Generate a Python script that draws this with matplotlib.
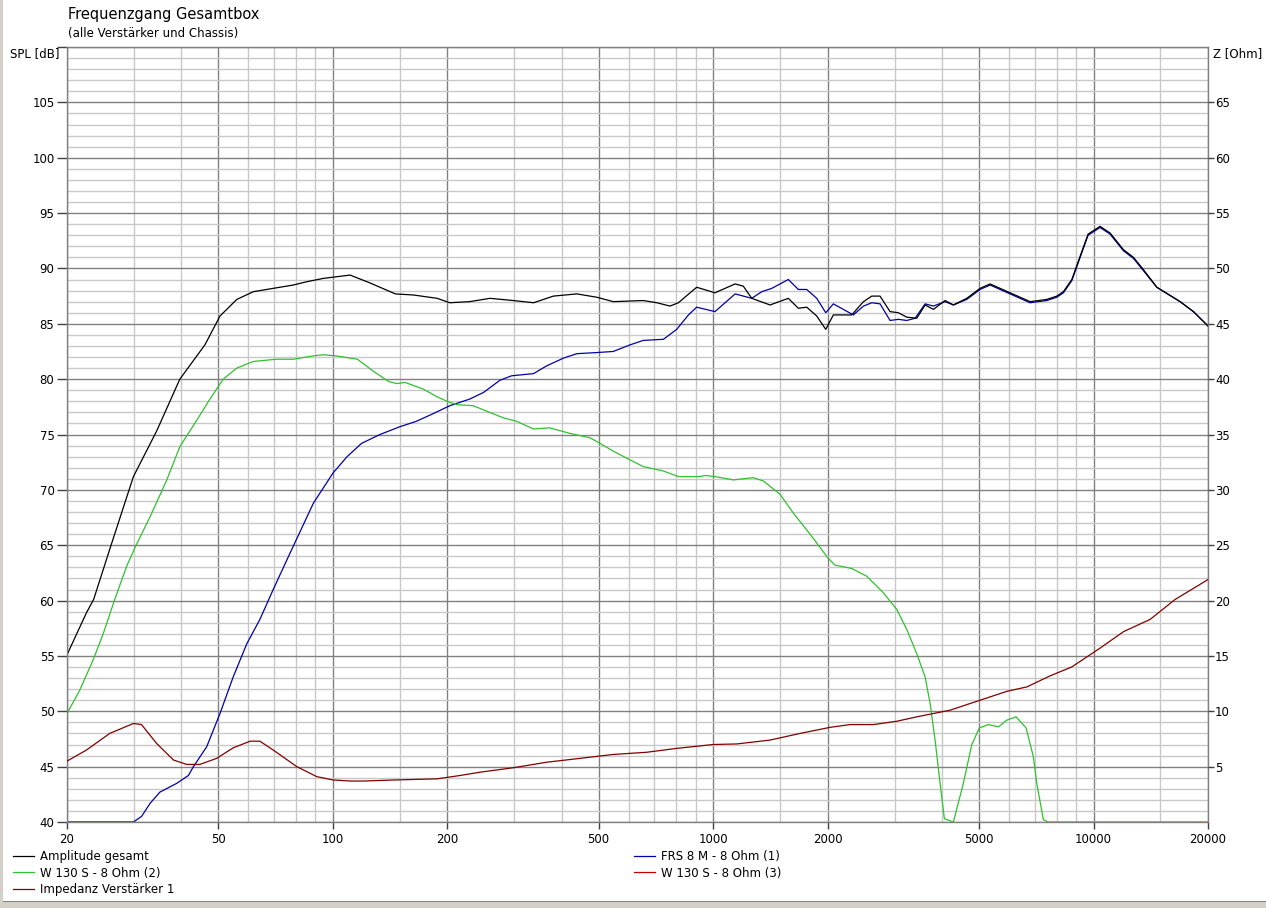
"""Frequenzgang Gesamtbox -- Nachbau des Simulationsplots."""
import matplotlib
matplotlib.use("Agg")
import matplotlib.pyplot as plt
from matplotlib.patches import Rectangle
from matplotlib.ticker import NullFormatter

# ---------------------------------------------------------------------------
# Daten
# ---------------------------------------------------------------------------

amp_f = [20, 22.5, 23.5, 26, 29.9, 34.4, 39.6, 46.1, 50.5, 55.9, 61.8, 69.7,
         78.7, 85.4, 94.4, 111, 125, 146, 163, 188, 203, 229, 259, 298, 337,
         380, 438, 494, 546, 655, 711, 770, 810, 905, 1011, 1142, 1200, 1263,
         1411, 1576, 1675, 1762, 1872, 1977, 2070, 2314, 2484, 2612, 2746,
         2918, 3068, 3228, 3430, 3608, 3794, 4071, 4281, 4642, 5032, 5346,
         5680, 6034, 6812, 7536, 8008, 8334, 8770, 9222, 9678, 10406, 11054,
         11982, 12736, 13526, 14670, 16892, 18310, 20000]
amp_db = [55.1, 58.9, 60.1, 64.8, 71.2, 75.3, 80.0, 83.1, 85.7, 87.2, 87.9,
          88.2, 88.5, 88.8, 89.1, 89.4, 88.7, 87.7, 87.6, 87.3, 86.9, 87.0,
          87.3, 87.1, 86.9, 87.5, 87.7, 87.4, 87.0, 87.1, 86.9, 86.6, 86.9,
          88.3, 87.8, 88.6, 88.4, 87.3, 86.7, 87.3, 86.4, 86.5, 85.7, 84.5,
          85.8, 85.8, 87.0, 87.5, 87.5, 86.1, 86.0, 85.6, 85.5, 86.7, 86.3,
          87.1, 86.7, 87.3, 88.2, 88.6, 88.2, 87.8, 87.0, 87.2, 87.5, 87.9,
          89.0, 91.1, 93.1, 93.8, 93.2, 91.7, 91.0, 89.9, 88.3, 87.0, 86.1,
          84.8]

frs_f = [20, 29.9, 31.4, 33.1, 35.1, 38.9, 41.7, 43.0, 46.6, 50.5, 54.7, 59.4,
         64.3, 69.7, 77.2, 88.9, 100, 109, 119, 133, 150, 166, 184, 203, 229,
         249, 275, 295, 337, 365, 404, 438, 494, 546, 605, 655, 740, 802, 861,
         905, 1011, 1108, 1142, 1263, 1342, 1426, 1576, 1675, 1762, 1872,
         1977, 2070, 2337, 2484, 2612, 2746, 2918, 3068, 3228, 3396, 3608,
         3794, 4071, 4281, 4642, 5032, 5346, 5680, 6034, 6812, 7536, 8008,
         8334, 8770, 9222, 9678, 10406, 11054, 11982, 12736, 13526, 14670,
         16892, 18310, 20000]
frs_db = [40.0, 40.0, 40.5, 41.7, 42.7, 43.5, 44.2, 45.0, 46.8, 49.8, 53.1,
          56.1, 58.3, 61.0, 64.3, 68.8, 71.5, 73.0, 74.2, 75.0, 75.7, 76.2,
          76.9, 77.6, 78.2, 78.8, 79.9, 80.3, 80.5, 81.2, 81.9, 82.3, 82.4,
          82.5, 83.1, 83.5, 83.6, 84.5, 85.8, 86.5, 86.1, 87.3, 87.7, 87.3,
          87.9, 88.2, 89.0, 88.1, 88.1, 87.3, 86.0, 86.8, 85.8, 86.6, 86.9,
          86.8, 85.3, 85.4, 85.3, 85.5, 86.8, 86.6, 87.0, 86.7, 87.2, 88.1,
          88.5, 88.1, 87.7, 86.9, 87.1, 87.4, 87.8, 88.9, 91.0, 93.0, 93.7,
          93.1, 91.6, 90.9, 89.8, 88.3, 87.0, 86.1, 84.8]

w130_f = [20, 21.6, 23.4, 24.9, 26.7, 28.7, 30.2, 33.1, 36.6, 39.6, 43.9, 47.5,
          51.5, 55.9, 61.8, 71.2, 78.7, 88.9, 94.4, 102, 116, 128, 140, 147,
          155, 173, 188, 203, 212, 234, 254, 281, 304, 337, 372, 420, 475,
          504, 546, 605, 655, 740, 810, 924, 952, 1011, 1130, 1275, 1355,
          1499, 1625, 1798, 2008, 2092, 2314, 2534, 2802, 3039, 3228, 3430,
          3608, 3719, 3832, 3950, 4054, 4281, 4548, 4786, 5012, 5292, 5624,
          5914, 6258, 6648, 6948, 7092, 7382, 7600, 20000]
w130_db = [49.8, 51.9, 54.6, 57.0, 60.1, 63.1, 64.8, 67.6, 70.9, 73.9, 76.3,
           78.2, 80.0, 81.0, 81.6, 81.8, 81.8, 82.1, 82.2, 82.1, 81.8, 80.7,
           79.8, 79.6, 79.7, 79.1, 78.4, 77.9, 77.7, 77.6, 77.1, 76.5, 76.2,
           75.5, 75.6, 75.1, 74.7, 74.2, 73.5, 72.7, 72.1, 71.7, 71.2, 71.2,
           71.3, 71.2, 70.9, 71.1, 70.8, 69.6, 67.9, 66.0, 63.8, 63.2, 62.9,
           62.2, 60.7, 59.2, 57.4, 55.2, 53.1, 50.7, 47.4, 43.5, 40.3, 40.0,
           43.5, 47.0, 48.5, 48.8, 48.6, 49.2, 49.5, 48.5, 45.9, 43.5, 40.2,
           40.0, 40.0]

imp_f = [20, 22.5, 25.9, 29.9, 31.4, 34.4, 38.1, 41.3, 44.7, 49.5, 54.7, 60.6,
         64.3, 69.7, 80.4, 90.7, 100, 111, 120, 147, 188, 216, 244, 298, 365,
         447, 546, 669, 802, 1001, 1154, 1411, 1692, 2029, 2290, 2638, 3039,
         3430, 3794, 4196, 5032, 5914, 6676, 7688, 8760, 10400, 12000, 14090,
         16390, 20000]
imp_ohm = [5.5, 6.5, 8.0, 8.9, 8.8, 7.1, 5.6, 5.2, 5.2, 5.75, 6.7, 7.3, 7.3,
           6.5, 5.0, 4.1, 3.8, 3.7, 3.7, 3.8, 3.9, 4.2, 4.5, 4.9, 5.4, 5.75,
           6.1, 6.3, 6.65, 7.0, 7.05, 7.4, 8.0, 8.55, 8.8, 8.8, 9.1, 9.5, 9.8,
           10.1, 11.0, 11.8, 12.2, 13.2, 14.0, 15.7, 17.2, 18.3, 20.1, 21.9]

x_major = [20, 50, 100, 200, 500, 1000, 2000, 5000, 10000, 20000]
x_minor = [30, 40, 60, 70, 80, 90, 150, 300, 400, 600, 700, 800, 900, 1500,
           3000, 4000, 6000, 7000, 8000, 9000, 15000]
spl_ticks = list(range(40, 106, 5))
z_ticks = list(range(5, 66, 5))

# ---------------------------------------------------------------------------
# Figur
# ---------------------------------------------------------------------------

W, H = 1266, 908
plt.rcParams["font.family"] = "DejaVu Sans"
fig = plt.figure(figsize=(W / 100, H / 100), dpi=100)
fig.patch.set_facecolor("white")

# Fensterrahmen (grau)
fig.patches.append(Rectangle((0, 0), 1, 6 / H, transform=fig.transFigure,
                             facecolor="#d4d0c8", edgecolor="none", zorder=0))
fig.patches.append(Rectangle((0, 6 / H), 1, 1.5 / H, transform=fig.transFigure,
                             facecolor="#808080", edgecolor="none", zorder=0))
fig.patches.append(Rectangle((0, 0), 3 / W, 1, transform=fig.transFigure,
                             facecolor="#d4d0c8", edgecolor="none", zorder=0))

left, right, top, bottom = 67, 1208, 47, 822
ax = fig.add_axes([left / W, 1 - bottom / H, (right - left) / W, (bottom - top) / H])
ax.set_xscale("log")
ax.set_xlim(20, 20000)
ax.set_ylim(40, 110)

grid_dark = "#808080"
grid_light = "#c8c8c8"

ax.set_xticks(x_major, labels=[str(v) for v in x_major])
ax.set_xticks(x_minor, minor=True)
ax.xaxis.set_minor_formatter(NullFormatter())
ax.set_yticks(spl_ticks + [110], labels=[str(v) for v in spl_ticks] + [""])
ax.set_yticks([v for v in range(41, 110) if v % 5], minor=True)
ax.grid(which="major", color=grid_dark, lw=1.0)
ax.grid(which="minor", color=grid_light, lw=1.0)
ax.set_axisbelow(True)
ax.tick_params(which="major", axis="y", length=7, width=1, color="#404040",
               pad=2, labelsize=8.5)
ax.tick_params(which="major", axis="x", length=5, width=1, color="#404040",
               pad=3, labelsize=8.5)
ax.tick_params(which="minor", length=0)
for sp in ax.spines.values():
    sp.set_color(grid_dark)
    sp.set_linewidth(1.0)

# Kurven: Chassis zuerst, Summe obenauf
lw = 0.9
l_frs, = ax.plot(frs_f, frs_db, color="#0000a8", lw=lw, label="FRS 8 M - 8 Ohm (1)")
l_w2, = ax.plot(w130_f, w130_db, color="#30c030", lw=lw, label="W 130 S - 8 Ohm (2)")
l_w3, = ax.plot([], [], color="#c00000", lw=lw, label="W 130 S - 8 Ohm (3)")
l_amp, = ax.plot(amp_f, amp_db, color="#000000", lw=lw, label="Amplitude gesamt")

ax2 = ax.twinx()
ax2.set_ylim(0, 70)
ax2.set_yticks(z_ticks, labels=[str(v) for v in z_ticks])
ax2.tick_params(axis="y", length=4, width=1, color="#404040", pad=1, labelsize=8.5)
for sp in ax2.spines.values():
    sp.set_visible(False)
l_imp, = ax2.plot(imp_f, imp_ohm, color="#800000", lw=lw, label="Impedanz Verstärker 1")

# Titel und Achsenbeschriftungen
fig.text(68 / W, 1 - 15 / H, "Frequenzgang Gesamtbox", fontsize=10.5,
         ha="left", va="center")
fig.text(68 / W, 1 - 33 / H, "(alle Verstärker und Chassis)", fontsize=8.5,
         ha="left", va="center")
fig.text(10 / W, 1 - 54 / H, "SPL [dB]", fontsize=8.5, ha="left", va="center")
fig.text(1213 / W, 1 - 54 / H, "Z [Ohm]", fontsize=8.5, ha="left", va="center")

# Legende (zwei Spalten)
leg_kw = dict(frameon=False, fontsize=8.5, handlelength=1.8, handletextpad=0.5,
              labelspacing=0.3, borderaxespad=0, borderpad=0, loc="upper left")
fig.legend(handles=[l_amp, l_w2, l_imp], bbox_to_anchor=(13 / W, 1 - 850 / H), **leg_kw)
fig.legend(handles=[l_frs, l_w3], bbox_to_anchor=(634 / W, 1 - 850 / H), **leg_kw)

fig.savefig("out.png", dpi=100)
